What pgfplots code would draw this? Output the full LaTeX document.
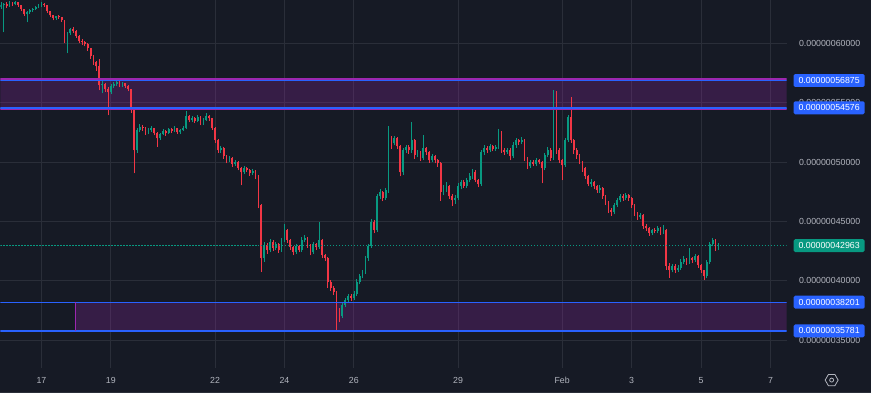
\documentclass[border=0pt]{standalone}
\usepackage{pgfplots}
\usepackage{pgfplotstable}
\pgfplotsset{compat=1.18}
\usepackage{fontspec}
\setmainfont{Liberation Sans}
\usetikzlibrary{shapes.geometric}
\definecolor{bgc}{RGB}{22,26,37}
\definecolor{gridc}{RGB}{42,46,57}
\definecolor{textc}{RGB}{178,181,190}
\definecolor{upc}{RGB}{8,153,129}
\definecolor{downc}{RGB}{242,54,69}
\definecolor{bluec}{RGB}{41,98,255}
\definecolor{purplec}{RGB}{156,39,176}

% 2-hour candles; x = hours since 15 Jan 00:00 = 20 + 2*index
\pgfplotstableread{
O H L C
63031 63450 62900 63199
63199 63400 60927 63283
63283 63450 63000 63115
63115 63550 63050 63367
63367 63500 63150 63283
63283 63600 63200 63452
63452 63520 63080 63199
63199 63250 62700 62862
62862 62900 62300 62442
62442 62700 61768 62610
62610 62900 62500 62778
62778 63000 62650 62862
62862 63150 62800 63031
63031 63300 62950 63115
63115 63450 63050 63283
63283 63400 63100 63199
63199 63250 62550 62694
62694 62750 62200 62357
62357 62400 61950 62105
62105 62350 62000 62273
62273 62400 62050 62189
62189 62250 61800 61937
61937 62000 60000 60422
60422 60950 59159 60842
60842 61300 60700 61179
61179 61350 60900 61011
61011 61100 60450 60590
60590 60700 60000 60169
60169 60350 59900 60085
60085 60200 59750 59917
59917 60000 59400 59580
59580 59650 58700 58907
58907 59000 58200 58401
58401 58500 57700 58065
58065 58700 56050 56466
56466 56800 55800 56550
56550 56650 55900 56129
56129 56300 53940 55876
55876 56550 55750 56381
56381 56720 56250 56550
56550 56900 56400 56718
56718 56800 56300 56466
56466 56750 56350 56634
56634 56700 56250 56381
56381 56500 55950 56129
56129 56200 54100 54361
54361 54450 49060 50995
50995 52900 50800 52678
52678 53250 52500 52931
52931 53150 52600 52846
52846 52950 52300 52510
52510 52850 52350 52678
52678 53050 52550 52846
52846 52900 52250 52425
52425 52500 51300 52004
52004 52450 51900 52341
52341 52750 52250 52594
52594 52700 52200 52425
52425 52900 52350 52762
52762 52850 52450 52594
52594 53000 52500 52846
52846 52900 52350 52510
52510 52800 52400 52678
52678 53050 52600 52846
52846 54300 52750 53856
53856 53950 53350 53520
53520 53900 53400 53688
53688 53800 53300 53436
53436 54000 53350 53772
53772 53850 53100 53267
53267 53700 53150 53520
53520 54100 53450 53856
53856 53950 53500 53688
53688 53750 52700 52846
52846 52950 51600 51836
51836 51950 50750 50995
50995 51350 50800 51163
51163 51250 50300 50490
50490 50600 49900 50153
50153 50500 50000 50321
50321 50400 49600 49816
49816 50150 49700 49985
49985 50100 49300 49479
49479 49550 48050 49143
49143 49650 49000 49479
49479 49600 49150 49311
49311 49400 48850 49059
49059 49400 48900 49227
49227 49300 48600 48806
48806 48900 46100 46365
46365 46500 40730 41904
41904 43300 41600 42998
42998 43200 42300 42578
42578 43500 42400 43251
43251 43400 42500 42746
42746 43300 42600 43083
43083 43200 42350 42578
42578 43600 42450 43419
43419 44770 43300 44261
44261 44350 43200 43419
43419 43550 42600 42830
42830 42950 42150 42409
42409 43100 42300 42914
42914 43050 42400 42578
42578 43650 42450 43419
43419 43850 43300 43588
43588 43700 42800 42998
42998 43100 42150 42409
42409 43250 42300 43083
43083 43200 42600 42830
42830 44930 42700 43419
43419 43500 41900 42157
42157 42300 41650 41904
41904 42000 39400 39884
39884 40100 39150 39379
39379 39550 38800 39043
39043 39150 35680 37359
37359 37700 36500 37023
37023 38150 36900 37949
37949 38550 37800 38369
38369 38900 38200 38706
38706 38850 38300 38538
38538 39100 38400 38874
38874 40150 38700 39884
39884 40600 39700 40389
40389 40950 40200 40726
40726 42100 40600 41904
41904 43100 41700 42914
42914 45200 42750 44934
44934 45100 44000 44261
44261 47350 44100 47123
47123 47700 46900 47459
47459 47600 46700 46954
46954 47850 46800 47628
47628 53015 47400 51836
51836 52200 51100 51584
51584 52200 51400 52004
52004 52100 51100 51331
51331 51450 48800 49143
49143 51200 48900 50995
50995 51450 50800 51247
51247 51400 50700 50995
50995 53351 50800 51836
51836 51950 50300 50574
50574 51050 50400 50826
50826 50950 50100 50321
50321 52257 50200 51163
51163 51300 50600 50826
50826 50950 49950 50153
50153 50700 50000 50490
50490 50600 49900 50153
50153 50300 49600 49900
49900 50050 46750 47459
47459 48100 47200 47796
47796 48300 47500 47964
47964 48100 46900 47123
47123 47300 46300 46786
46786 47200 46500 46954
46954 48200 46800 47964
47964 48500 47700 48301
48301 48500 47800 47964
47964 48700 47800 48469
48469 49100 48300 48806
48806 49400 48600 49143
49143 49300 48300 48469
48469 48600 47880 48133
48133 51050 48000 50826
50826 51400 50600 51163
51163 51350 50750 50995
50995 51550 50850 51331
51331 51450 50900 51079
51079 51400 50950 51247
51247 52750 51100 52510
52510 52600 50750 50995
50995 51150 50600 50826
50826 51200 50650 50995
50995 51150 50150 50490
50490 51700 50350 51415
51415 52050 51200 51836
51836 51950 51450 51668
51668 52100 51550 51836
51836 51950 50100 50321
50321 50450 49400 49648
49648 50200 49500 49985
49985 50150 49650 49816
49816 50350 49700 50153
50153 50300 49800 49985
49985 50100 48200 49479
49479 50800 49300 50574
50574 51300 50400 50995
50995 51150 50100 50321
50321 56040 50200 55203
55203 56000 50700 50995
50995 51150 49900 50153
50153 50300 48460 49732
49732 52000 49600 51836
51836 53950 51700 53772
53772 55455 51600 51836
51836 51950 50700 50995
50995 51150 50300 50574
50574 50700 49800 49985
49985 50100 49200 49479
49479 49600 48550 48806
48806 48900 47950 48133
48133 48550 47900 48301
48301 48400 47700 47964
47964 48100 47400 47628
47628 48050 47400 47796
47796 47900 46900 47123
47123 47250 46400 46618
46618 46700 45700 45944
45944 46100 45500 45776
45776 46550 45600 46365
46365 47000 46200 46786
46786 47350 46600 47123
47123 47300 46750 46954
46954 47400 46800 47207
47207 47300 46750 46954
46954 47050 46150 46365
46365 46450 45450 45692
45692 45800 45150 45355
45355 45750 45200 45524
45524 45600 44350 44598
44598 44750 44200 44429
44429 44550 43800 44009
44009 44400 43850 44261
44261 44450 44000 44177
44177 44600 44050 44429
44429 44550 43900 44093
44093 44700 43950 44261
44261 44350 40950 41231
41231 41500 40250 40894
40894 41450 40700 41231
41231 41400 40650 40894
40894 41300 40750 41062
41062 41800 40950 41567
41567 42050 41400 41820
41820 41950 41350 41567
41567 42750 41400 41904
41904 42000 41500 41736
41736 42300 41600 42072
42072 42150 41100 41315
41315 41450 40650 40894
40894 40950 40050 40389
40389 41750 40200 41567
41567 43250 41400 43083
43083 43600 42900 43419
43419 43500 42550 42746
42746 43150 42600 42963
}\candles

\begin{document}
\begin{tikzpicture}
\fill[bgc] (0,0) rectangle (871pt,393pt);
\draw[gridc, line width=0.8pt] (0,0.6pt) -- (871pt,0.6pt);
\begin{axis}[
  at={(0pt,25pt)}, anchor=south west,
  scale only axis, width=787pt, height=368pt,
  xmin=19.68, xmax=563.2, ymin=32646, ymax=63620,
  axis line style={draw=none},
  tick style={draw=none},
  scaled y ticks=false,
  xtick={48,96,168,216,264,336,408,456,504,552},
  xticklabels={17,19,22,24,26,29,Feb,3,5,7},
  ytick={35000,40000,45000,50000,55000,60000},
  yticklabels={0.00000035000,0.00000040000,0.00000045000,0.00000050000,0.00000055000,0.00000060000},
  yticklabel pos=right,
  grid=major,
  major grid style={draw=gridc, line width=0.9pt},
  ticklabel style={font=\fontsize{8.8}{10}\selectfont, text=textc},
  xticklabel style={anchor=center, yshift=-12pt},
  yticklabel style={anchor=center, xshift=43pt},
]
% zones (fill)
\fill[purplec, fill opacity=0.24] (axis cs:19.68,57010) rectangle (axis cs:563.2,54480);
\fill[purplec, fill opacity=0.24] (axis cs:71.5,38201) rectangle (axis cs:563.2,35781);
% wicks
\addplot[draw=none, mark=none, forget plot, restrict y to domain=20000:70000,
  error bars/.cd, y dir=plus, y explicit, error mark=none,
  error bar style={draw=upc, line width=0.7pt}]
  table[x expr={20+2*\coordindex}, y expr={\thisrow{C}<\thisrow{O} ? -1 : \thisrow{L}},
        y error expr={\thisrow{H}-\thisrow{L}}] {\candles};
\addplot[draw=none, mark=none, forget plot, restrict y to domain=20000:70000,
  error bars/.cd, y dir=plus, y explicit, error mark=none,
  error bar style={draw=downc, line width=0.7pt}]
  table[x expr={20+2*\coordindex}, y expr={\thisrow{C}<\thisrow{O} ? \thisrow{L} : -1},
        y error expr={\thisrow{H}-\thisrow{L}}] {\candles};
% bodies
\addplot[draw=none, mark=none, forget plot, restrict y to domain=20000:70000,
  error bars/.cd, y dir=plus, y explicit, error mark=none,
  error bar style={draw=upc, line width=1.8pt}]
  table[x expr={20+2*\coordindex}, y expr={\thisrow{C}<\thisrow{O} ? -1 : \thisrow{O}},
        y error expr={max(\thisrow{C}-\thisrow{O},50)}] {\candles};
\addplot[draw=none, mark=none, forget plot, restrict y to domain=20000:70000,
  error bars/.cd, y dir=plus, y explicit, error mark=none,
  error bar style={draw=downc, line width=1.8pt}]
  table[x expr={20+2*\coordindex}, y expr={\thisrow{C}<\thisrow{O} ? \thisrow{C} : -1},
        y error expr={max(\thisrow{O}-\thisrow{C},50)}] {\candles};
% zone lines
\draw[purplec, line width=1.2pt] (axis cs:19.68,57010) -- (axis cs:563.2,57010);
\draw[purplec, line width=1.2pt] (axis cs:19.68,54480) -- (axis cs:563.2,54480);
\draw[bluec, line width=1.5pt] (axis cs:19.68,56875) -- (axis cs:563.2,56875);
\draw[bluec, line width=1.5pt] (axis cs:19.68,54576) -- (axis cs:563.2,54576);
\draw[bluec, line width=1.3pt] (axis cs:19.68,38201) -- (axis cs:563.2,38201);
\draw[bluec, line width=1.3pt] (axis cs:19.68,35781) -- (axis cs:563.2,35781);
\draw[purplec, line width=1.3pt] (axis cs:71.5,38201) -- (axis cs:71.5,35781);
\draw[upc, line width=1.1pt, dash pattern=on 1.3pt off 1.7pt] (axis cs:19.68,42963) -- (axis cs:563.2,42963);
\coordinate (p1) at (axis cs:563.2,56875);
\coordinate (p2) at (axis cs:563.2,54576);
\coordinate (p3) at (axis cs:563.2,42963);
\coordinate (p4) at (axis cs:563.2,38201);
\coordinate (p5) at (axis cs:563.2,35781);
\end{axis}
\tikzset{pricebox/.style={rounded corners=1.5pt, minimum width=71pt, minimum height=13pt, inner sep=0pt, text=white, font=\fontsize{8.8}{10}\selectfont}}
\node[pricebox, fill=bluec] at ([xshift=42.5pt]p1) {0.00000056875};
\node[pricebox, fill=bluec] at ([xshift=42.5pt]p2) {0.00000054576};
\node[pricebox, fill=upc] at ([xshift=42.5pt]p3) {0.00000042963};
\node[pricebox, fill=bluec] at ([xshift=42.5pt]p4) {0.00000038201};
\node[pricebox, fill=bluec] at ([xshift=42.5pt]p5) {0.00000035781};
\node[regular polygon, regular polygon sides=6, draw=textc, line width=0.8pt, minimum size=13pt, inner sep=0pt] at (832pt,13pt) {};
\draw[textc, line width=0.8pt] (832pt,13pt) circle (2pt);
\end{tikzpicture}
\end{document}
